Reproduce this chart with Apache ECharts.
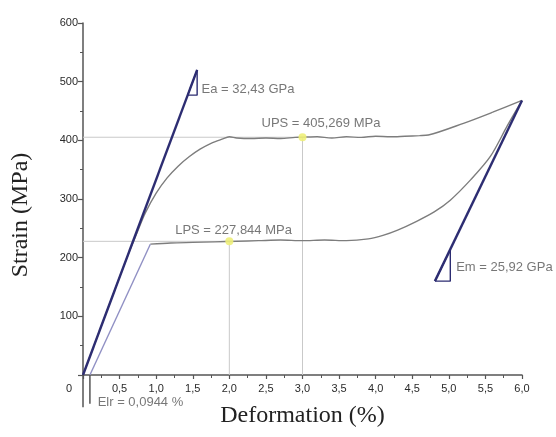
<!DOCTYPE html>
<html>
<head>
<meta charset="utf-8">
<script src="https://cdn.jsdelivr.net/npm/echarts@6/dist/echarts.min.js"></script>
<style>html,body{margin:0;padding:0;background:#fff}#c{width:556px;height:437px}</style>
</head>
<body>
<div id="c"></div>
<script>
// ---- data ----
var xTicks = [0, 0.5, 1, 1.5, 2, 2.5, 3, 3.5, 4, 4.5, 5, 5.5, 6];
var yTicks = [0, 100, 200, 300, 400, 500, 600];

// loading curve (upper branch)
var loadX = [0, 0.3, 0.6, 0.75, 0.85, 1.0, 1.15, 1.3, 1.45, 1.6, 1.75, 1.9, 2.0, 2.1, 2.3, 2.5, 2.7, 2.9, 3.0, 3.2, 3.4, 3.6, 3.8, 4.0, 4.2, 4.4, 4.6, 4.72, 5.2, 5.6, 6.0];
var loadY = [0, 100, 200, 246, 276, 310, 336, 356, 372, 385, 395, 402, 406, 404, 403, 404, 403, 405, 405.3, 406, 404, 406, 405, 407, 406, 407, 408, 409, 429, 448, 468];

// unloading curve (lower branch)
var unloadX = [6.0, 5.8, 5.57, 5.3, 5.02, 4.8, 4.56, 4.3, 4.1, 3.9, 3.6, 3.3, 3.0, 2.7, 2.4, 2.1, 1.8, 1.5, 1.2, 0.92];
var unloadY = [468, 425, 373, 333, 298, 278, 262, 247, 238, 232, 229, 230, 229, 230, 229, 228, 227, 226, 225, 223];
// unloading elastic segment down to residual strain
var elasticX = [0.92, 0.0944];
var elasticY = [223, 0];

// modulus lines and triangles
var eaX = [0, 1.56];
var eaY = [0, 520];
var eaTriX = [1.43, 1.56, 1.56, 1.43];
var eaTriY = [477, 477, 520, 477];
var emX = [4.81, 6.0];
var emY = [160, 468];
var emTriX = [4.81, 5.02, 5.02, 4.81];
var emTriY = [160, 160, 214, 160];

// plateau stresses
var UPS = 405.269, UPSx = 3.0;
var LPS = 227.844, LPSx = 2.0;
var Elr = 0.0944;
var elrDepth = -55;

// annotation texts and anchors
var annText = ['Ea = 32,43 GPa', 'UPS = 405,269 MPa', 'LPS = 227,844 MPa', 'Em = 25,92 GPa', 'Elr = 0,0944 %'];
var annX = [1.62, 2.44, 1.26, 5.1, 0.2];
var annY = [487, 428, 247, 184, -46];

function zip(a, b) { return a.map(function (v, i) { return [v, b[i]]; }); }

var chart = echarts.init(document.getElementById('c'), null, {renderer: 'canvas'});
var navy = '#2d2d72';
var gray = '#7d7d7d';
var light = '#c9c9c9';

var option = {
  animation: false,
  backgroundColor: '#fff',
  grid: {left: 83, right: 34, top: 23, bottom: 62, containLabel: false},
  xAxis: {
    type: 'value', min: 0, max: 6, interval: 0.5,
    name: 'Deformation (%)', nameLocation: 'middle', nameGap: 29,
    nameTextStyle: {fontFamily: 'Liberation Serif', fontSize: 24, color: '#222'},
    axisLine: {show: true, lineStyle: {color: '#555', width: 1.5}},
    axisTick: {show: true, length: 4, lineStyle: {color: '#555', width: 1.2}},
    minorTick: {show: true, splitNumber: 2, length: 3, lineStyle: {color: '#555'}},
    splitLine: {show: false},
    axisLabel: {
      margin: 8, fontSize: 11, color: '#2a2a2a', fontFamily: 'Liberation Sans',
      formatter: function (v) { return v === 0 ? '{z|0}' : v.toFixed(1).replace('.', ','); },
      rich: {z: {fontSize: 11, color: '#2a2a2a', fontFamily: 'Liberation Sans', padding: [0, 28, 0, 0]}}
    }
  },
  yAxis: {
    type: 'value', min: 0, max: 600, interval: 100,
    name: 'Strain (MPa)', nameLocation: 'middle', nameGap: 50,
    nameTextStyle: {fontFamily: 'Liberation Serif', fontSize: 24, color: '#222', padding: [0, 32, 0, 0]},
    axisLine: {show: true, lineStyle: {color: '#555', width: 1.5}},
    axisTick: {show: true, length: 5, lineStyle: {color: '#555', width: 1.2}},
    minorTick: {show: true, splitNumber: 2, length: 3, lineStyle: {color: '#555'}},
    splitLine: {show: false},
    axisLabel: {
      margin: 5, fontSize: 11, color: '#2a2a2a', fontFamily: 'Liberation Sans',
      formatter: function (v) { return v === 0 ? '' : String(v); }
    }
  },
  series: [
    // reference lines
    {type: 'line', data: [[0, UPS], [UPSx, UPS], [UPSx, 0]], symbol: 'none', lineStyle: {color: light, width: 1}, z: 1},
    {type: 'line', data: [[0, LPS], [LPSx, LPS], [LPSx, 0]], symbol: 'none', lineStyle: {color: light, width: 1}, z: 1},
    // curves
    {type: 'line', data: zip(loadX, loadY), symbol: 'none', smooth: 0.3, lineStyle: {color: gray, width: 1.4}, z: 2},
    {type: 'line', data: zip(unloadX, unloadY), symbol: 'none', smooth: 0.3, lineStyle: {color: gray, width: 1.4}, z: 2},
    {type: 'line', data: zip(elasticX, elasticY), symbol: 'none', lineStyle: {color: '#9090c4', width: 1.4}, z: 2},
    // modulus lines
    {type: 'line', data: zip(eaX, eaY), symbol: 'none', lineStyle: {color: navy, width: 2.4}, z: 3},
    {type: 'line', data: zip(eaTriX, eaTriY), symbol: 'none', lineStyle: {color: navy, width: 1.4}, z: 3},
    {type: 'line', data: zip(emX, emY), symbol: 'none', lineStyle: {color: navy, width: 2.4}, z: 3},
    {type: 'line', data: zip(emTriX, emTriY), symbol: 'none', lineStyle: {color: navy, width: 1.4}, z: 3},
    // residual strain markers
    {type: 'line', clip: false, data: [[0, 0], [0, elrDepth]], symbol: 'none', lineStyle: {color: '#555', width: 1.5}, z: 3},
    {type: 'line', clip: false, data: [[Elr, 0], [Elr, elrDepth + 6]], symbol: 'none', lineStyle: {color: '#555', width: 1.5}, z: 3},
    // plateau points
    {type: 'scatter', data: [[LPSx, LPS], [UPSx, UPS]], symbolSize: 8, itemStyle: {color: '#eef07a', opacity: 0.9}, z: 4},
    // annotations
    {
      type: 'scatter', clip: false, symbolSize: 0, z: 5,
      data: annX.map(function (x, i) { return {value: [x, annY[i]], name: annText[i]}; }),
      label: {show: true, position: 'right', distance: 0, formatter: '{b}', fontSize: 13, color: '#555', fontFamily: 'Liberation Sans'}
    }
  ]
};
chart.setOption(option);
</script>
</body>
</html>
